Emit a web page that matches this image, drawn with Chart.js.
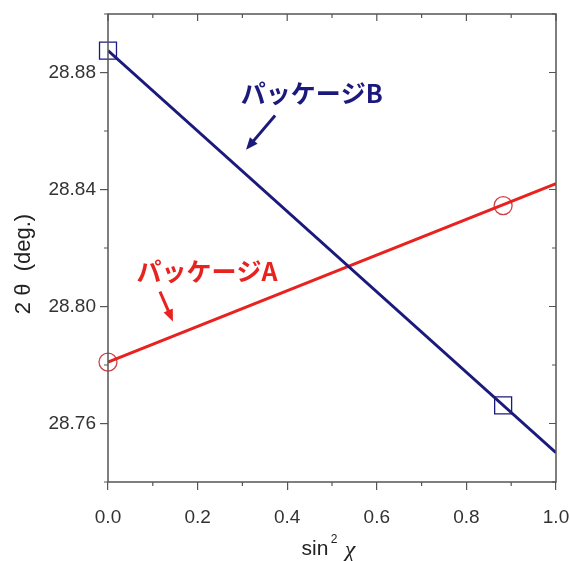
<!DOCTYPE html>
<html>
<head>
<meta charset="utf-8">
<script src="https://cdn.jsdelivr.net/npm/chart.js@4.4.1/dist/chart.umd.min.js"></script>
<style>
  html, body { margin: 0; padding: 0; background: #fff; overflow: hidden; }
  #wrap { width: 570px; height: 561px; }
</style>
</head>
<body>
<div id="wrap"><canvas id="chart"></canvas></div>
<script>
// fitted lines (sin^2 chi = 0 .. 1)
const fitX = [0, 1];
const fitA = [28.781, 28.842];
const fitB = [28.8875, 28.750];
// measured points
const measX = [0, 0.882];
const measA = [28.781, 28.8345];
const measB = [28.8875, 28.7662];
// axis ticks
const xTicks = [0, 0.2, 0.4, 0.6, 0.8, 1.0];
const xMinor = [0.1, 0.3, 0.5, 0.7, 0.9];
const yTicks = [28.76, 28.80, 28.84, 28.88];
const yMinor = [28.74, 28.78, 28.82, 28.86, 28.90];

const navy = '#1b1a7c';
const red = '#e8221f';
const axisColor = '#555';

const pts = (xs, ys) => xs.map((x, i) => ({ x: x, y: ys[i] }));

// ticks on all four sides + box + annotations
const framePlugin = {
    id: 'frame',
    afterDraw(chart) {
        const ctx = chart.ctx;
        const a = chart.chartArea;
        const xs = chart.scales.x, ys = chart.scales.y;
        ctx.save();
        ctx.strokeStyle = axisColor;
        ctx.lineWidth = 1.5;
        ctx.strokeRect(a.left, a.top, a.right - a.left, a.bottom - a.top);

        ctx.lineWidth = 1.2;
        ctx.beginPath();
        xTicks.forEach(v => {
            const px = xs.getPixelForValue(v);
            ctx.moveTo(px, a.top); ctx.lineTo(px, a.top + 7);
        });
        xMinor.forEach(v => {
            const px = xs.getPixelForValue(v);
            ctx.moveTo(px, a.bottom); ctx.lineTo(px, a.bottom + 4);
            ctx.moveTo(px, a.top); ctx.lineTo(px, a.top + 4);
        });
        yTicks.forEach(v => {
            const py = ys.getPixelForValue(v);
            ctx.moveTo(a.right, py); ctx.lineTo(a.right - 7, py);
        });
        yMinor.forEach(v => {
            const py = ys.getPixelForValue(v);
            ctx.moveTo(a.left, py); ctx.lineTo(a.left - 4, py);
            ctx.moveTo(a.right, py); ctx.lineTo(a.right - 4, py);
        });
        ctx.stroke();

        // axis titles
        ctx.fillStyle = '#222';
        ctx.textAlign = 'center';
        ctx.textBaseline = 'middle';
        ctx.font = '21px "Liberation Sans", Arial, sans-serif';
        ctx.fillText('sin', 315, 549);
        ctx.font = '12px "Liberation Sans", Arial, sans-serif';
        ctx.fillText('2', 334, 540);
        ctx.font = 'italic 24px "Liberation Serif", serif';
        ctx.fillText('\u03c7', 350, 551);

        ctx.save();
        ctx.translate(24, 264);
        ctx.rotate(-Math.PI / 2);
        ctx.font = '22px "Liberation Sans", Arial, sans-serif';
        ctx.fillText('2 \u03b8  (deg.)', 0, 0);
        ctx.restore();

        // annotations
        const note = (text, color, tx, ty, x0, y0, x1, y1) => {
            ctx.fillStyle = color;
            ctx.strokeStyle = color;
            ctx.font = 'bold 25px "Noto Sans CJK JP", sans-serif';
            ctx.fillText(text, xs.getPixelForValue(tx), ys.getPixelForValue(ty));
            const sx = xs.getPixelForValue(x0), sy = ys.getPixelForValue(y0);
            const ex = xs.getPixelForValue(x1), ey = ys.getPixelForValue(y1);
            const ang = Math.atan2(ey - sy, ex - sx);
            ctx.lineWidth = 3;
            ctx.beginPath();
            ctx.moveTo(sx, sy);
            ctx.lineTo(ex - 8 * Math.cos(ang), ey - 8 * Math.sin(ang));
            ctx.stroke();
            ctx.beginPath();
            ctx.moveTo(ex, ey);
            ctx.lineTo(ex - 12 * Math.cos(ang) + 5 * Math.sin(ang), ey - 12 * Math.sin(ang) - 5 * Math.cos(ang));
            ctx.lineTo(ex - 12 * Math.cos(ang) - 5 * Math.sin(ang), ey - 12 * Math.sin(ang) + 5 * Math.cos(ang));
            ctx.closePath();
            ctx.fill();
        };
        note('パッケージB', navy, 0.455, 28.8728, 0.373, 28.8653, 0.308, 28.8536);
        note('パッケージA', red, 0.221, 28.812, 0.116, 28.8051, 0.145, 28.7949);
        ctx.restore();
    }
};

new Chart(document.getElementById('chart'), {
    type: 'scatter',
    data: {
        datasets: [
            { label: 'B fit', data: pts(fitX, fitB), showLine: true, borderColor: navy, borderWidth: 3, pointRadius: 0, order: 1 },
            { label: 'A fit', data: pts(fitX, fitA), showLine: true, borderColor: red, borderWidth: 3, pointRadius: 0, order: 2 },
            { label: 'B', data: pts(measX, measB), pointStyle: 'rect', pointRadius: 12, borderColor: navy, borderWidth: 1.3, backgroundColor: 'rgba(0,0,0,0)', clip: false, order: 3 },
            { label: 'A', data: pts(measX, measA), pointStyle: 'circle', pointRadius: 9, borderColor: '#d0404a', borderWidth: 1.3, backgroundColor: 'rgba(0,0,0,0)', clip: false, order: 4 }
        ]
    },
    options: {
        responsive: true,
        maintainAspectRatio: false,
        animation: false,
        layout: { padding: { top: 14, right: 14 } },
        plugins: { legend: { display: false }, tooltip: { enabled: false } },
        scales: {
            x: {
                type: 'linear', min: 0, max: 1,
                afterFit: s => { s.height = 79; s.paddingLeft = 0; s.paddingRight = 0; },
                afterBuildTicks: s => { s.ticks = xTicks.map(v => ({ value: v })); },
                grid: { display: true, drawOnChartArea: false, tickLength: 8, color: axisColor, lineWidth: 1.2 },
                border: { display: false },
                ticks: { padding: 16, color: '#333', font: { family: '"Liberation Sans", Arial, sans-serif', size: 19 }, callback: v => v.toFixed(1) }
            },
            y: {
                type: 'linear', min: 28.74, max: 28.90,
                afterFit: s => { s.width = 108; s.paddingTop = 0; s.paddingBottom = 0; },
                afterBuildTicks: s => { s.ticks = yTicks.map(v => ({ value: v })); },
                grid: { display: true, drawOnChartArea: false, tickLength: 8, color: axisColor, lineWidth: 1.2 },
                border: { display: false },
                ticks: { padding: 4, color: '#333', font: { family: '"Liberation Sans", Arial, sans-serif', size: 19 }, callback: v => v.toFixed(2) }
            }
        }
    },
    plugins: [framePlugin]
});
</script>
</body>
</html>
